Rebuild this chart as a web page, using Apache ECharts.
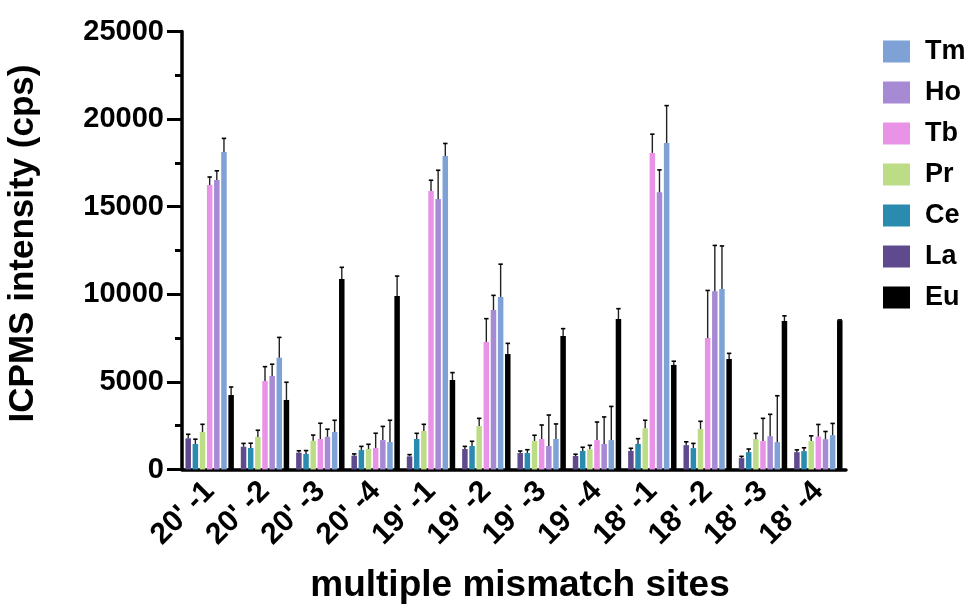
<!DOCTYPE html>
<html>
<head>
<meta charset="utf-8">
<script src="https://cdn.jsdelivr.net/npm/echarts@6/dist/echarts.min.js"></script>
<style>
html,body{margin:0;padding:0;background:#fff;}
#chart{width:968px;height:611px;}
</style>
</head>
<body>
<div id="chart"></div>
<script>
const categories = ["20' -1","20' -2","20' -3","20' -4","19' -1","19' -2","19' -3","19' -4","18' -1","18' -2","18' -3","18' -4"];
const seriesNames = ["La","Ce","Pr","Tb","Ho","Tm","Eu"];
const legendOrder = ["Tm","Ho","Tb","Pr","Ce","La","Eu"];
const yTicks = [0, 5000, 10000, 15000, 20000, 25000];

const La    = [1780, 1300, 960, 790, 750, 1170, 940, 770, 1060, 1390, 650, 990];
const LaErr = [230, 190, 110, 100, 100, 150, 115, 100, 150, 190, 100, 130];
const Ce    = [1460, 1230, 890, 1110, 1740, 1340, 940, 1060, 1460, 1220, 990, 1050];
const CeErr = [270, 270, 190, 210, 325, 270, 190, 210, 300, 270, 180, 190];
const Pr    = [2140, 1860, 1640, 1170, 2200, 2480, 1630, 1150, 2350, 2310, 1730, 1620];
const PrErr = [440, 380, 325, 270, 380, 440, 325, 230, 460, 440, 330, 300];
const Tb    = [16240, 5050, 1740, 1230, 15900, 7280, 1740, 1680, 18070, 7500, 1620, 1880];
const TbErr = [455, 820, 900, 840, 610, 1330, 800, 1030, 1070, 2720, 1300, 690];
const Ho    = [16520, 5340, 1860, 1680, 15440, 9100, 1340, 1460, 15820, 10180, 1900, 1730];
const HoErr = [530, 670, 440, 780, 1640, 840, 1770, 1540, 1280, 2610, 1250, 440];
const Tm    = [18120, 6380, 2140, 1570, 17890, 9850, 1740, 1680, 18640, 10300, 1560, 1960];
const TmErr = [780, 1160, 670, 1240, 720, 1870, 860, 1920, 2130, 2460, 2650, 670];
const Eu    = [4250, 3970, 10870, 9900, 5110, 6590, 7620, 8590, 5970, 6310, 8470, 8520];
const EuErr = [460, 1010, 670, 1140, 420, 610, 420, 590, 210, 320, 300, 20];

const values = [La, Ce, Pr, Tb, Ho, Tm, Eu];
const errors = [LaErr, CeErr, PrErr, TbErr, HoErr, TmErr, EuErr];
const colors = ["#5f4a8e", "#2a8bae", "#bcdd86", "#e993e6", "#a68ad3", "#7ea1d6", "#000000"];

const FONT = "'Liberation Sans', Arial, Helvetica, sans-serif";
const BAR_W = 5.5;
const GAP_RATIO = 0.3;
const N = seriesNames.length;
const GROUP_W = N * BAR_W + (N - 1) * BAR_W * GAP_RATIO;

const errData = [];
values.forEach((arr, s) => arr.forEach((v, c) => errData.push([c, s, v, errors[s][c]])));

function renderErr(params, api) {
  const c = api.value(0), s = api.value(1), v = api.value(2), e = api.value(3);
  const p0 = api.coord([c, v]);
  const p1 = api.coord([c, v + e]);
  const x = p0[0] - GROUP_W / 2 + BAR_W / 2 + s * BAR_W * (1 + GAP_RATIO);
  return {
    type: 'group',
    children: [
      {type: 'line', shape: {x1: x, y1: p0[1], x2: x, y2: p1[1]}, style: {stroke: '#222', lineWidth: 1.4}},
      {type: 'line', shape: {x1: x - 2.2, y1: p1[1], x2: x + 2.2, y2: p1[1]}, style: {stroke: '#000', lineWidth: 1.6}}
    ]
  };
}

const chart = echarts.init(document.getElementById('chart'), null, {renderer: 'canvas'});
const series = seriesNames.map((n, i) => ({
  name: n,
  type: 'bar',
  data: values[i],
  barWidth: BAR_W,
  barGap: (GAP_RATIO * 100) + '%',
  itemStyle: {color: colors[i]},
  animation: false
}));
series.push({
  name: 'err',
  type: 'custom',
  data: errData,
  encode: {x: 0, y: 2},
  renderItem: renderErr,
  z: 5,
  animation: false,
  silent: true
});

chart.setOption({
  animation: false,
  backgroundColor: '#fff',
  color: colors,
  grid: {left: 182, right: 122, top: 31.5, bottom: 141.5, containLabel: false, outerBoundsMode: 'none'},
  legend: {
    orient: 'vertical',
    left: 878,
    top: 33,
    data: legendOrder,
    icon: 'rect',
    itemWidth: 27,
    itemHeight: 22,
    itemGap: 14,
    textStyle: {fontFamily: FONT, fontWeight: 'bold', fontSize: 27, color: '#000', padding: [0, 0, 0, 10]}
  },
  xAxis: {
    type: 'category',
    data: categories,
    name: 'multiple mismatch sites',
    nameLocation: 'middle',
    nameGap: 98,
    nameTextStyle: {fontFamily: FONT, fontWeight: 'bold', fontSize: 37, color: '#000', padding: [0, 0, 0, 12]},
    axisLine: {lineStyle: {color: '#000', width: 3.5}},
    axisTick: {alignWithLabel: true, length: 12, lineStyle: {color: '#000', width: 3}},
    axisLabel: {rotate: 45, margin: 17, interval: 0, fontFamily: FONT, fontWeight: 'bold', fontSize: 30, color: '#000'}
  },
  yAxis: {
    type: 'value',
    min: yTicks[0],
    max: yTicks[yTicks.length - 1],
    interval: yTicks[1] - yTicks[0],
    name: 'ICPMS intensity (cps)',
    nameLocation: 'middle',
    nameGap: 141,
    nameTextStyle: {fontFamily: FONT, fontWeight: 'bold', fontSize: 35, color: '#000', padding: [0, 0, 0, 14]},
    axisLine: {show: true, lineStyle: {color: '#000', width: 3.5}},
    axisTick: {show: true, length: 15, lineStyle: {color: '#000', width: 3}},
    minorTick: {show: true, splitNumber: 2, length: 7, lineStyle: {color: '#000', width: 3}},
    splitLine: {show: false},
    axisLabel: {margin: 18, fontFamily: FONT, fontWeight: 'bold', fontSize: 29, color: '#000', formatter: v => String(v)}
  },
  series: series
});
</script>
</body>
</html>
